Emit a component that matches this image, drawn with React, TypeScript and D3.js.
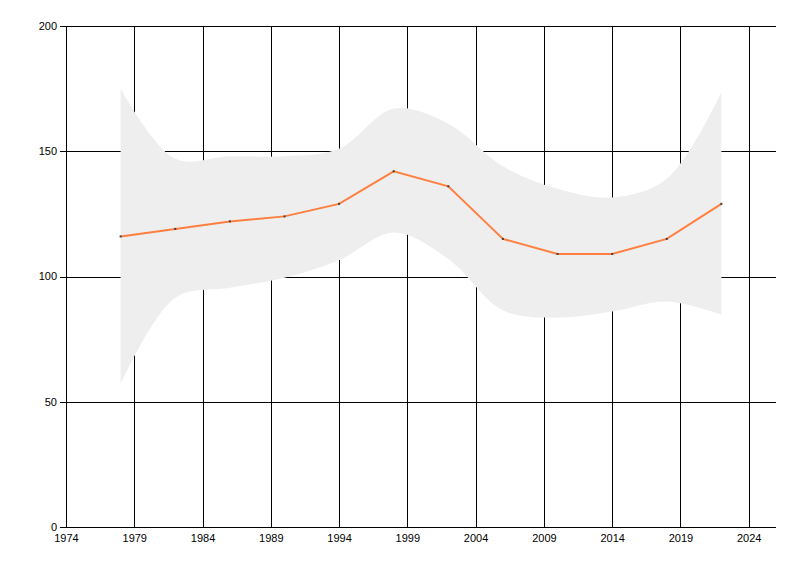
import React from 'react';
import * as d3 from 'd3';

// Data
const years = [1978, 1982, 1986, 1990, 1994, 1998, 2002, 2006, 2010, 2014, 2018, 2022];
const values = [116, 119, 122, 124, 129, 142, 136, 115, 109, 109, 115, 129];
const upper = [175, 147, 148, 148, 151, 167, 161, 144, 135, 131.5, 139, 173.5];
const lower = [57, 91.5, 95.5, 99.5, 106.5, 117.6, 107, 86.5, 83.6, 86, 90, 84.8];
const xTicks = [1974, 1979, 1984, 1989, 1994, 1999, 2004, 2009, 2014, 2019, 2024];
const yTicks = [0, 50, 100, 150, 200];

const width = 800;
const height = 576;
const margin = { top: 26, right: 24, bottom: 49, left: 66 };

const App = () => {
  const x = d3.scaleLinear().domain([1974, 2026]).range([margin.left, width - margin.right]);
  const y = d3.scaleLinear().domain([0, 200]).range([height - margin.bottom, margin.top]);

  const rows = years.map((yr, i) => ({ yr, v: values[i], hi: upper[i], lo: lower[i] }));

  const band = d3
    .area<(typeof rows)[number]>()
    .x((d) => x(d.yr))
    .y0((d) => y(d.lo))
    .y1((d) => y(d.hi))
    .curve(d3.curveCatmullRom.alpha(0.5));

  const line = d3
    .line<(typeof rows)[number]>()
    .x((d) => x(d.yr))
    .y((d) => y(d.v));

  const x0 = margin.left;
  const x1 = width - margin.right;
  const yBottom = height - margin.bottom;
  const font = "'Liberation Sans', Arial, sans-serif";

  return (
    <div style={{ position: 'fixed', left: 0, top: 0 }}>
      <svg width={width} height={height} style={{ display: 'block', background: '#fff' }}>
        {/* grid */}
        <g shapeRendering="crispEdges">
          {yTicks.map((t) => (
            <line key={'h' + t} x1={x0 - 6} x2={x1} y1={Math.round(y(t)) + 0.5} y2={Math.round(y(t)) + 0.5} stroke="#000" strokeWidth={1} />
          ))}
          {xTicks.map((t) => (
            <line key={'v' + t} x1={Math.round(x(t)) + 0.5} x2={Math.round(x(t)) + 0.5} y1={margin.top} y2={yBottom} stroke="#000" strokeWidth={1} />
          ))}
        </g>
        {/* band drawn over the grid */}
        <path d={band(rows) ?? ''} fill="#EEEEEE" />
        {/* axes */}
        <g shapeRendering="crispEdges">
          <line x1={x0 + 0.5} x2={x0 + 0.5} y1={margin.top} y2={yBottom} stroke="#000" />
          <line x1={x0} x2={x1} y1={yBottom + 0.5} y2={yBottom + 0.5} stroke="#000" />
        </g>
        {/* series */}
        <path d={line(rows) ?? ''} fill="none" stroke="#FF7F40" strokeWidth={2} />
        {rows.map((d) => (
          <rect key={d.yr} x={x(d.yr) - 1} y={y(d.v) - 1} width={2} height={2} fill="#404040" />
        ))}
        {/* labels */}
        {yTicks.map((t) => (
          <text key={'yl' + t} x={x0 - 9} y={y(t)} dy="0.35em" textAnchor="end" fontSize={11} fontFamily={font} fill="#000">
            {t}
          </text>
        ))}
        {xTicks.map((t) => (
          <text key={'xl' + t} x={x(t) + 0.5} y={yBottom + 15} textAnchor="middle" fontSize={11} fontFamily={font} fill="#000">
            {t}
          </text>
        ))}
      </svg>
    </div>
  );
};

export default App;
